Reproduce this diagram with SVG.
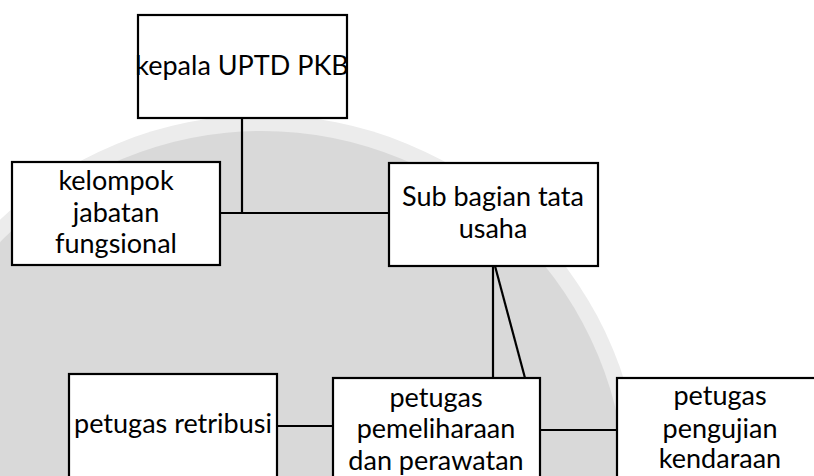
<svg xmlns="http://www.w3.org/2000/svg" width="814" height="476" viewBox="0 0 814 476">
  <style>
    .box { fill: #ffffff; stroke: #000000; stroke-width: 2.2; }
    .lbl { font-family: Lato, "Liberation Sans", sans-serif; font-size: 27px; fill: #000000; text-anchor: middle; }
    .conn line { stroke: #000000; stroke-width: 2.2; }
  </style>
  <rect x="0" y="0" width="814" height="476" fill="#ffffff"/>
  <g id="background">
    <circle cx="262" cy="495" r="380" fill="#ececec"/>
    <circle cx="262" cy="495" r="364" fill="#d9d9d9"/>
  </g>
  <g id="connectors" class="conn">
    <line x1="242" y1="118" x2="242" y2="213"/>
    <line x1="220" y1="213" x2="389" y2="213"/>
    <line x1="493" y1="266" x2="493" y2="378"/>
    <line x1="495" y1="266" x2="525" y2="378"/>
    <line x1="277" y1="426" x2="333" y2="426"/>
    <line x1="540" y1="430" x2="617" y2="430"/>
  </g>
  <g id="kepala">
    <rect class="box" x="138" y="15" width="209" height="103"/>
    <text class="lbl" x="242" y="75">kepala UPTD PKB</text>
  </g>
  <g id="kelompok">
    <rect class="box" x="12" y="162" width="208" height="103"/>
    <text class="lbl" x="116" y="190">kelompok</text>
    <text class="lbl" x="116" y="222">jabatan</text>
    <text class="lbl" x="116" y="253">fungsional</text>
  </g>
  <g id="subbagian">
    <rect class="box" x="389" y="163" width="209" height="103"/>
    <text class="lbl" x="493" y="206">Sub bagian tata</text>
    <text class="lbl" x="493" y="238">usaha</text>
  </g>
  <g id="retribusi">
    <rect class="box" x="69" y="374" width="208" height="110"/>
    <text class="lbl" x="173" y="433">petugas retribusi</text>
  </g>
  <g id="pemeliharaan">
    <rect class="box" x="333" y="378" width="207" height="110"/>
    <text class="lbl" x="436" y="407">petugas</text>
    <text class="lbl" x="436" y="438">pemeliharaan</text>
    <text class="lbl" x="436" y="470">dan perawatan</text>
  </g>
  <g id="pengujian">
    <rect class="box" x="617" y="378" width="207" height="110"/>
    <text class="lbl" x="720" y="405">petugas</text>
    <text class="lbl" x="720" y="438">pengujian</text>
    <text class="lbl" x="720" y="468">kendaraan</text>
  </g>
</svg>
